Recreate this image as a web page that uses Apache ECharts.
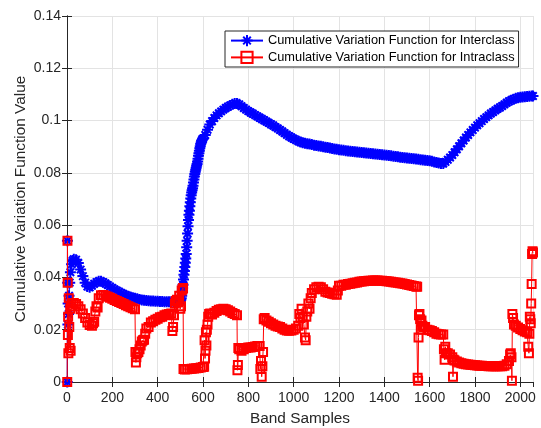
<!DOCTYPE html>
<html>
<head>
<meta charset="utf-8">
<script src="https://cdn.jsdelivr.net/npm/echarts@6/dist/echarts.min.js"></script>
<style>html,body{margin:0;padding:0;background:#fff;}#chart{width:541px;height:428px;}</style>
</head>
<body>
<div id="chart"></div>
<script>
// ---- data ----
const seriesNames = ['Cumulative Variation Function for Interclass', 'Cumulative Variation Function for Intraclass'];
const xTicks = [0, 200, 400, 600, 800, 1000, 1200, 1400, 1600, 1800, 2000];
const yTicks = [0, 0.02, 0.04, 0.06, 0.08, 0.1, 0.12, 0.14];

const interBand = [1,2,3,4,5,7,9,12,15,20,25,30,40,50,60,70,80,90,100,110,120,130,140,150,160,170,180,190,200,210,220,230,240,250,260,270,280,290,300,310,320,330,340,350,360,370,380,390,400,410,420,430,440,450,460,470,480,490,500,502,504,506,508,510,512,514,516,518,520,522,524,526,528,530,532,534,536,538,540,542,544,546,548,550,552,554,556,558,560,562,564,566,568,570,572,574,576,578,580,582,584,586,588,590,592,594,596,598,600,610,620,630,640,650,660,670,680,690,700,710,720,730,740,750,760,770,780,790,800,810,820,830,840,850,860,870,880,890,900,910,920,930,940,950,960,970,980,990,1000,1010,1020,1030,1040,1050,1060,1070,1080,1090,1100,1110,1120,1130,1140,1150,1160,1170,1180,1190,1200,1210,1220,1230,1240,1250,1260,1270,1280,1290,1300,1310,1320,1330,1340,1350,1360,1370,1380,1390,1400,1410,1420,1430,1440,1450,1460,1470,1480,1490,1500,1510,1520,1530,1540,1550,1560,1570,1580,1590,1600,1610,1620,1630,1640,1650,1660,1670,1680,1690,1700,1710,1720,1730,1740,1750,1760,1770,1780,1790,1800,1810,1820,1830,1840,1850,1860,1870,1880,1890,1900,1910,1920,1930,1940,1950,1960,1970,1980,1990,2000,2010,2020,2030,2040,2050,2056];
const interValue = [0,0.054,0.038,0.022,0.030,0.026,0.033,0.038,0.042,0.045,0.0465,0.047,0.0468,0.0455,0.043,0.0405,0.038,0.0365,0.0362,0.0368,0.0376,0.0382,0.0385,0.0385,0.0382,0.0377,0.0371,0.0365,0.036,0.0354,0.0349,0.0344,0.034,0.0336,0.0332,0.0328,0.0325,0.0322,0.032,0.0318,0.0316,0.0314,0.0313,0.0312,0.0311,0.031,0.031,0.0309,0.0309,0.0308,0.0308,0.0307,0.0307,0.0307,0.0307,0.0306,0.0306,0.0308,0.031,0.0315,0.032,0.033,0.0345,0.036,0.0372,0.0392,0.041,0.0425,0.044,0.0456,0.0472,0.049,0.0515,0.054,0.0568,0.0596,0.062,0.064,0.0655,0.0672,0.0688,0.0702,0.0714,0.0725,0.0733,0.0741,0.0751,0.0763,0.0775,0.0786,0.0796,0.0804,0.0812,0.082,0.0827,0.0834,0.0843,0.0854,0.0865,0.0875,0.0885,0.0894,0.0902,0.091,0.0916,0.0922,0.0926,0.0929,0.093,0.0945,0.0965,0.0985,0.0998,0.101,0.102,0.1028,0.1035,0.1042,0.1048,0.1053,0.1058,0.1062,0.1065,0.1065,0.1062,0.1055,0.1048,0.1042,0.1036,0.1031,0.1026,0.1021,0.1016,0.1011,0.1006,0.1001,0.0996,0.0991,0.0986,0.0981,0.0975,0.097,0.0964,0.0958,0.0952,0.0946,0.094,0.0935,0.093,0.0926,0.0922,0.0918,0.0915,0.0913,0.0911,0.091,0.0908,0.0906,0.0905,0.0903,0.0902,0.09,0.0898,0.0897,0.0895,0.0893,0.0891,0.089,0.0888,0.0887,0.0886,0.0885,0.0884,0.0883,0.0882,0.0881,0.088,0.0879,0.0878,0.0877,0.0876,0.0875,0.0874,0.0873,0.0872,0.0871,0.087,0.0869,0.0868,0.0867,0.0866,0.0865,0.0864,0.0863,0.0862,0.086,0.0859,0.0858,0.0857,0.0856,0.0855,0.0854,0.0853,0.0852,0.085,0.0849,0.0848,0.0847,0.0846,0.0844,0.0842,0.084,0.0838,0.0836,0.0836,0.0842,0.085,0.0859,0.0868,0.0879,0.089,0.0902,0.0913,0.0924,0.0935,0.0945,0.0955,0.0964,0.0973,0.0982,0.099,0.0998,0.1006,0.1013,0.102,0.1027,0.1033,0.1039,0.1045,0.105,0.1056,0.1062,0.1068,0.1074,0.1078,0.1082,0.1085,0.1087,0.1089,0.109,0.1091,0.1092,0.1093,0.1094,0.1094];

const intraBand = [1,2,3,4,5,6,8,10,12,14,16,18,20,30,40,50,60,70,80,90,100,110,115,120,125,130,135,140,150,160,170,180,190,200,210,220,230,240,250,260,270,280,290,300,302,304,306,310,315,320,325,330,335,340,345,350,360,370,380,390,400,410,420,430,440,450,460,465,468,472,476,480,485,490,495,500,503,506,510,512,514,520,530,540,550,560,570,580,590,600,605,607,609,611,613,615,617,620,623,627,632,640,650,660,670,680,690,700,710,720,730,740,750,752,754,756,760,770,780,790,800,810,820,830,840,850,853,856,859,862,865,868,872,880,890,900,910,920,930,940,950,960,970,980,990,1000,1010,1020,1025,1030,1035,1040,1045,1050,1053,1056,1060,1065,1070,1075,1080,1090,1100,1110,1120,1130,1140,1150,1160,1170,1180,1190,1195,1200,1210,1220,1230,1240,1250,1260,1270,1280,1290,1300,1310,1320,1330,1340,1350,1360,1370,1380,1390,1400,1410,1420,1430,1440,1450,1460,1470,1480,1490,1500,1510,1520,1530,1540,1545,1547,1549,1551,1553,1555,1558,1561,1564,1568,1575,1580,1590,1600,1610,1620,1630,1640,1650,1660,1663,1666,1669,1672,1680,1690,1700,1703,1706,1710,1720,1730,1740,1750,1760,1770,1780,1790,1800,1810,1820,1830,1840,1850,1860,1870,1880,1890,1900,1910,1920,1930,1940,1950,1955,1958,1961,1963,1965,1968,1972,1980,1990,2000,2010,2020,2030,2035,2038,2040,2042,2044,2046,2048,2050,2052,2054,2056];
const intraValue = [0,0.054,0.038,0.018,0.025,0.011,0.032,0.021,0.013,0.028,0.012,0.029,0.030,0.0302,0.0298,0.029,0.0278,0.0262,0.0245,0.0228,0.0218,0.0215,0.0225,0.023,0.027,0.029,0.0285,0.032,0.0332,0.0333,0.033,0.0326,0.0322,0.0318,0.0314,0.031,0.0306,0.0302,0.0298,0.0294,0.029,0.0286,0.0282,0.0278,0.0115,0.0075,0.0095,0.011,0.0115,0.0125,0.014,0.0155,0.016,0.0162,0.0185,0.0205,0.021,0.0228,0.0232,0.0238,0.0242,0.0248,0.025,0.0255,0.0258,0.026,0.0262,0.0195,0.021,0.0255,0.030,0.031,0.0315,0.0305,0.033,0.028,0.029,0.035,0.0355,0.036,0.005,0.0048,0.0049,0.005,0.0051,0.0052,0.0053,0.0054,0.0055,0.0057,0.0058,0.016,0.009,0.012,0.019,0.014,0.020,0.022,0.025,0.026,0.0262,0.0258,0.0265,0.0272,0.0276,0.0278,0.028,0.0278,0.0274,0.027,0.0264,0.026,0.0255,0.0045,0.0065,0.013,0.0125,0.012,0.0125,0.013,0.0132,0.0132,0.0134,0.0136,0.0138,0.0138,0.005,0.008,0.002,0.006,0.0115,0.024,0.0245,0.0235,0.023,0.0225,0.022,0.0215,0.0212,0.021,0.0205,0.020,0.0197,0.0196,0.0197,0.020,0.0205,0.0215,0.026,0.0245,0.028,0.025,0.022,0.017,0.016,0.025,0.027,0.030,0.028,0.032,0.034,0.0355,0.0362,0.0364,0.0362,0.0355,0.0345,0.0342,0.034,0.0338,0.0336,0.0334,0.035,0.0368,0.0368,0.0372,0.0372,0.0375,0.0376,0.0378,0.038,0.0381,0.0383,0.0384,0.0385,0.0386,0.0387,0.0387,0.0388,0.0388,0.0388,0.0387,0.0387,0.0386,0.0385,0.0384,0.0383,0.0382,0.0381,0.038,0.0378,0.0377,0.0375,0.0373,0.0371,0.0369,0.0367,0.0365,0.0364,0.0016,0.0005,0.017,0.0255,0.026,0.024,0.020,0.0235,0.0215,0.021,0.021,0.020,0.0198,0.0195,0.019,0.0185,0.0183,0.0182,0.0182,0.0125,0.0085,0.0135,0.011,0.011,0.0105,0.0095,0.002,0.0085,0.0082,0.0078,0.0075,0.0072,0.007,0.0068,0.0067,0.0066,0.0065,0.0064,0.0063,0.0062,0.0062,0.0061,0.0061,0.006,0.006,0.006,0.006,0.006,0.006,0.006,0.0062,0.0068,0.008,0.0105,0.011,0.0095,0.0005,0.026,0.0245,0.022,0.0215,0.0208,0.0203,0.0198,0.0193,0.019,0.0135,0.011,0.0185,0.025,0.024,0.0225,0.030,0.0375,0.049,0.050,0.0495];

const xMin = 0, xMax = 2056, xStep = 200;
const yMin = 0, yMax = 0.14, yStep = 0.02;

// ---- chart ----
const txt = '#262626';
const gridCol = '#e3e3e3';
const font = 'Liberation Sans, Arial, Helvetica, sans-serif';
const asterisk = 'path://M5,0L5,10M0,5L10,5M1.6,1.6L8.4,8.4M1.6,8.4L8.4,1.6';

const chart = echarts.init(document.getElementById('chart'), null, {renderer: 'canvas'});
const pairs = (xs, ys) => xs.map((x, i) => [x, ys[i]]);

const axisCommon = {
  axisLine: {show: true, lineStyle: {color: txt, width: 1}},
  axisTick: {show: true, inside: true, length: 5, lineStyle: {color: txt}},
};

chart.setOption({
  animation: false,
  backgroundColor: '#fff',
  textStyle: {fontFamily: font},
  grid: {left: 67, right: 8, top: 16, bottom: 46, containLabel: false, outerBoundsMode: 'none'},
  legend: {
    data: seriesNames,
    orient: 'vertical',
    left: 225, top: 31,
    padding: [3, 4, 3, 5],
    itemWidth: 32, itemHeight: 14, itemGap: 3.6, itemTextGap: 3,
    backgroundColor: '#fff',
    borderColor: txt, borderWidth: 1, borderRadius: 0,
    textStyle: {color: '#000', fontSize: 12.8, fontFamily: font}
  },
  xAxis: [
    Object.assign({
      type: 'value', min: xMin, max: xMax, interval: xStep,
      name: 'Band Samples', nameLocation: 'middle', nameGap: 29, nameMoveOverlap: false,
      nameTextStyle: {color: txt, fontSize: 15.4, fontFamily: font},
      axisLabel: {color: txt, fontSize: 14, margin: 9, fontFamily: font, showMaxLabel: false,
        formatter: v => xTicks.includes(v) ? String(v) : ''},
      splitLine: {show: true, lineStyle: {color: gridCol, width: 1}}
    }, axisCommon),
    Object.assign({
      type: 'value', min: xMin, max: xMax, interval: xStep, position: 'top',
      axisLabel: {show: false}, splitLine: {show: false}
    }, axisCommon)
  ],
  yAxis: [
    Object.assign({
      type: 'value', min: yMin, max: yMax, interval: yStep,
      name: 'Cumulative Variation Function Value', nameLocation: 'middle', nameGap: 39, nameMoveOverlap: false,
      nameTextStyle: {color: txt, fontSize: 15.4, fontFamily: font},
      axisLabel: {color: txt, fontSize: 14, margin: 6, fontFamily: font,
        formatter: v => { const t = yTicks.find(k => Math.abs(k - v) < 1e-9); return t === undefined ? '' : String(+t.toFixed(2)); }},
      splitLine: {show: true, lineStyle: {color: gridCol, width: 1}}
    }, axisCommon),
    Object.assign({
      type: 'value', min: yMin, max: yMax, interval: yStep, position: 'right',
      axisLabel: {show: false}, splitLine: {show: false}
    }, axisCommon)
  ],
  series: [
    {
      name: seriesNames[0], type: 'line', xAxisIndex: 0, yAxisIndex: 0,
      data: pairs(interBand, interValue),
      symbol: asterisk, symbolSize: 11, showAllSymbol: true,
      lineStyle: {color: '#0000ff', width: 1},
      itemStyle: {color: '#0000ff', borderColor: '#0000ff', borderWidth: 2},
      z: 2
    },
    {
      name: seriesNames[1], type: 'line', xAxisIndex: 0, yAxisIndex: 0,
      data: pairs(intraBand, intraValue),
      symbol: 'rect', symbolSize: 8, showAllSymbol: true,
      lineStyle: {color: '#ff0000', width: 1},
      itemStyle: {color: 'rgba(255,0,0,0)', borderColor: '#ff0000', borderWidth: 2},
      z: 3
    }
  ]
});
</script>
</body>
</html>
